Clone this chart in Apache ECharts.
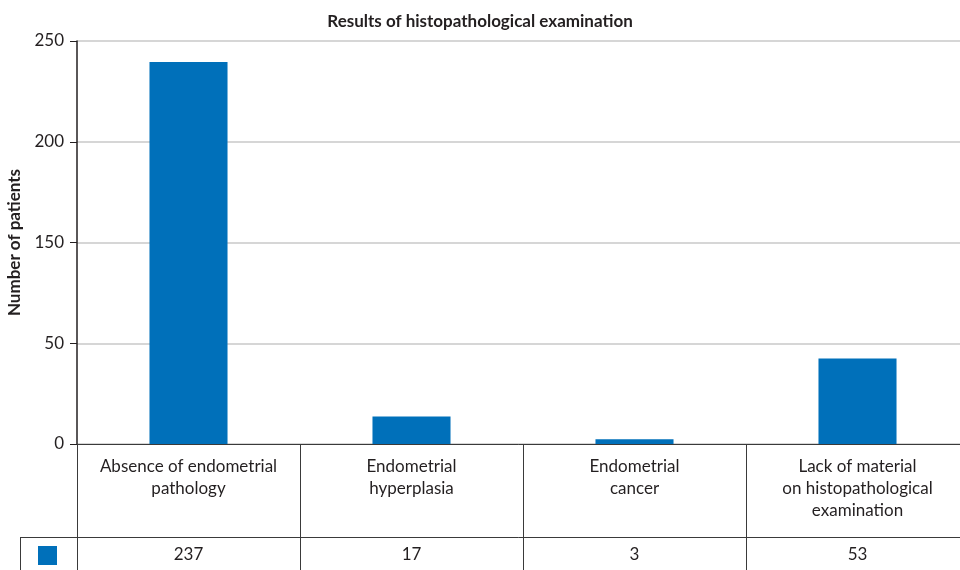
<!DOCTYPE html>
<html>
<head>
<meta charset="utf-8">
<title>Results of histopathological examination</title>
<script src="https://cdn.jsdelivr.net/npm/echarts@6/dist/echarts.min.js"></script>
<style>
  html, body { margin: 0; padding: 0; background: #fff; }
  #chart { width: 960px; height: 570px; }
</style>
</head>
<body>
<div id="chart"></div>
<script>
  // data
  const categories = [
    'Absence of endometrial\npathology',
    'Endometrial\nhyperplasia',
    'Endometrial\ncancer',
    'Lack of material\non histopathological\nexamination'
  ]
  const patients = [237, 17, 3, 53]
  // the original axis has 4 equal steps from 0 to 250, labelled like this
  const yTickLabels = ['0', '50', '150', '200', '250']

  const textColor = '#231f20'
  const lineColor = '#3a3a3a'
  const font = 'Lato'

  let chart = echarts.init(document.getElementById('chart'))
  chart.setOption({
    animation: false,
    title: {
      text: 'Results of histopathological examination',
      left: 'center',
      top: 8,
      textStyle: { fontFamily: font, fontSize: 17, fontWeight: 'bold', color: textColor }
    },
    // legend square in the data table
    legend: {
      left: 33,
      top: 541,
      itemWidth: 19,
      itemHeight: 19,
      icon: 'rect',
      formatter: () => '',
      selectedMode: false,
      data: ['Number of patients']
    },
    // plot runs a little past the right edge, as in the original
    grid: { left: 77, top: 41, width: 892, height: 403, outerBoundsMode: 'none' },
    xAxis: [
      {
        type: 'category',
        data: categories,
        axisLine: { lineStyle: { color: lineColor, width: 1 } },
        axisTick: { show: true, length: 130, interval: 0, lineStyle: { color: lineColor } },
        axisLabel: {
          interval: 0,
          margin: 12,
          fontFamily: font,
          fontSize: 17,
          lineHeight: 22,
          color: textColor
        }
      },
      {
        // values row of the table
        type: 'category',
        position: 'bottom',
        offset: 93,
        data: patients.map(String),
        axisLine: { lineStyle: { color: lineColor, width: 1 } },
        axisTick: { show: false },
        axisLabel: { interval: 0, margin: 9, fontFamily: font, fontSize: 17, color: textColor }
      }
    ],
    yAxis: {
      type: 'value',
      min: 0,
      max: 250,
      interval: 62.5,
      name: 'Number of patients',
      nameLocation: 'middle',
      nameGap: 54,
      nameTextStyle: { fontFamily: font, fontSize: 17, fontWeight: 'bold', color: textColor },
      axisLine: { show: true, lineStyle: { color: '#231f20', width: 1.5 } },
      axisTick: { show: true, length: 7, lineStyle: { color: '#231f20' } },
      splitLine: { lineStyle: { color: '#c8c8c8', width: 1.5 } },
      axisLabel: {
        margin: 13,
        fontFamily: font,
        fontSize: 17,
        color: textColor,
        formatter: v => yTickLabels[Math.round(v / 62.5)]
      }
    },
    series: [{
      name: 'Number of patients',
      type: 'bar',
      xAxisIndex: 0,
      barWidth: '35%',
      itemStyle: { color: '#0070ba' },
      data: patients
    }],
    // table borders left of the plot
    graphic: [
      { type: 'line', shape: { x1: 20, y1: 537.5, x2: 77, y2: 537.5 }, style: { stroke: lineColor, lineWidth: 1 } },
      { type: 'line', shape: { x1: 20.5, y1: 537, x2: 20.5, y2: 570 }, style: { stroke: lineColor, lineWidth: 1 } }
    ]
  })
</script>
</body>
</html>
